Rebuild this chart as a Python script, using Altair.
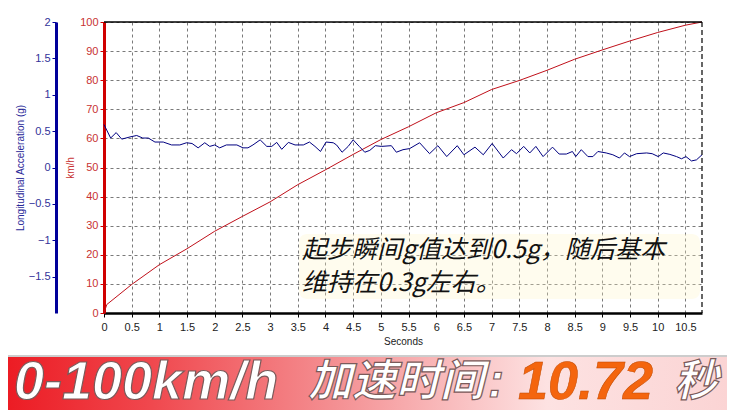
import altair as alt
import pandas as pd

# ---- data ----
speed_t = [0, 0.05, 0.5, 1.0, 1.5, 2.0, 2.5, 3.0, 3.5, 4.0, 4.5, 5.0, 5.5, 6.0,
           6.5, 7.0, 7.5, 8.0, 8.5, 9.0, 9.5, 10.0, 10.5, 10.8]
speed_v = [0, 2.9, 9.8, 16.6, 22.1, 28.1, 33.2, 38.2, 44.1, 49.2, 54.5, 59.6, 64.0, 68.8,
           72.3, 76.8, 79.9, 83.4, 87.2, 90.4, 93.5, 96.4, 98.9, 100]

accel_t = [0, 0.12, 0.22, 0.32, 0.47, 0.59, 0.70, 0.80, 0.92, 1.07, 1.22, 1.37, 1.49, 1.59,
           1.70, 1.82, 1.91, 2.00, 2.09, 2.21, 2.40, 2.51, 2.60, 2.69, 2.82, 2.94, 3.03, 3.12,
           3.21, 3.33, 3.45, 3.60, 3.71, 3.81, 3.91, 4.01, 4.14, 4.20, 4.30, 4.41, 4.50, 4.61,
           4.71, 4.80, 4.90, 5.01, 5.19, 5.28, 5.40, 5.52, 5.70, 5.88, 6.03, 6.19, 6.38, 6.50,
           6.70, 6.85, 7.01, 7.21, 7.36, 7.45, 7.58, 7.69, 7.80, 7.93, 8.10, 8.22, 8.35, 8.46,
           8.52, 8.62, 8.74, 8.83, 8.92, 9.07, 9.19, 9.31, 9.40, 9.49, 9.62, 9.80, 9.90, 10.01,
           10.10, 10.22, 10.34, 10.43, 10.51, 10.61, 10.70, 10.80]
accel_g = [0.59, 0.405, 0.48, 0.39, 0.42, 0.44, 0.405, 0.405, 0.35, 0.35, 0.31, 0.31, 0.34, 0.33,
           0.27, 0.34, 0.29, 0.31, 0.27, 0.31, 0.31, 0.27, 0.27, 0.31, 0.38, 0.29, 0.29, 0.345,
           0.25, 0.345, 0.31, 0.31, 0.35, 0.29, 0.22, 0.35, 0.34, 0.31, 0.21, 0.29, 0.38, 0.29,
           0.21, 0.235, 0.30, 0.29, 0.30, 0.21, 0.245, 0.26, 0.34, 0.19, 0.30, 0.15, 0.30, 0.175,
           0.28, 0.175, 0.33, 0.13, 0.245, 0.19, 0.29, 0.20, 0.29, 0.15, 0.28, 0.185, 0.185, 0.22,
           0.15, 0.245, 0.15, 0.15, 0.22, 0.20, 0.175, 0.13, 0.20, 0.15, 0.19, 0.20, 0.19, 0.15,
           0.20, 0.18, 0.15, 0.12, 0.15, 0.09, 0.105, 0.175]

x_ticks = [i * 0.5 for i in range(22)]
speed_ticks = list(range(0, 101, 10))
accel_ticks = [-1.5, -1, -0.5, 0, 0.5, 1, 1.5, 2]

note_lines = ["起步瞬间g值达到0.5g，随后基本", "维持在0.3g左右。"]
banner_parts = ["0-100km/h", "加速时间", ":", "10.72", "秒"]

W, H = 598, 291

speed_df = pd.DataFrame({"t": speed_t, "v": speed_v})
accel_df = pd.DataFrame({"t": accel_t, "g": accel_g})

xscale = alt.Scale(domain=[0, 10.8], nice=False, zero=False)
x_axis = alt.Axis(
    values=x_ticks, format=".1~f", labelOverlap=False, labelFlush=False,
    title="Seconds", grid=True,
    gridDash=[3, 3], gridColor="#7a7a7a", gridWidth=1,
    domainColor="#000000", domainWidth=2.5, tickColor="#000000", tickSize=4,
    labelColor="#222222", labelFont="Liberation Sans", labelFontSize=11,
    labelPadding=4, titleFont="Liberation Sans", titleFontSize=10,
    titleFontWeight="normal", titleColor="#222222", titlePadding=4)

speed = alt.Chart(speed_df).mark_line(color="#c0101a", strokeWidth=1).encode(
    x=alt.X("t:Q", scale=xscale, axis=x_axis),
    y=alt.Y("v:Q", scale=alt.Scale(domain=[0, 100], nice=False), axis=alt.Axis(
        orient="left", values=speed_ticks, title="km/h", grid=True,
        labelOverlap=False, labelFlush=False,
        gridDash=[3, 3], gridColor="#7a7a7a", gridWidth=1,
        domainColor="#d00000", domainWidth=3, tickColor="#d00000", tickSize=4,
        labelColor="#c83232", labelFont="Liberation Sans", labelFontSize=11,
        labelPadding=2, titleFont="Liberation Sans", titleFontSize=10,
        titleFontWeight="normal", titleColor="#c83232",
        titleX=-34, titleY=H / 2, titleAngle=270, titleAlign="center",
        titleBaseline="middle")),
)

accel = alt.Chart(accel_df).mark_line(color="#000080", strokeWidth=1).encode(
    x=alt.X("t:Q", scale=xscale, axis=x_axis),
    y=alt.Y("g:Q", scale=alt.Scale(domain=[-2, 2], nice=False), axis=alt.Axis(
        orient="left", offset=48, values=accel_ticks, format="~g", grid=False,
        labelOverlap=False, labelFlush=False, title="Longitudinal Acceleration (g)",
        domainColor="#000099", domainWidth=3, tickColor="#000099", tickSize=4,
        labelColor="#333399", labelFont="Liberation Sans", labelFontSize=11,
        labelPadding=2, titleFont="Liberation Sans", titleFontSize=10,
        titleFontWeight="normal", titleColor="#2a2a99",
        titleX=-36, titleY=H / 2, titleAngle=270, titleAlign="center",
        titleBaseline="middle")),
)

top_line = alt.Chart().mark_rule(color="#000000", strokeWidth=1.5).encode(
    x=alt.value(0), x2=alt.value(W), y=alt.value(0))
right_line = alt.Chart().mark_rule(color="#000000", strokeWidth=1.2, strokeDash=[5, 3]).encode(
    x=alt.value(W), y=alt.value(0), y2=alt.value(H))

# annotation with a soft yellow glow behind it
note_layers = []
glow = alt.Chart().mark_rect(color="#fff6c8", opacity=0.3, cornerRadius=8).encode(
    x=alt.value(195), x2=alt.value(596), y=alt.value(212), y2=alt.value(277))
for i, line in enumerate(note_lines):
    yv = 228 + 33 * i
    note_layers.append(alt.Chart().mark_text(
        align="left", baseline="middle", font="Noto Sans CJK SC", fontSize=25,
        fontStyle="italic", color="#111111",
        text=line).encode(x=alt.value(198), y=alt.value(yv)))

# bottom banner
grad = alt.LinearGradient(
    gradient="linear", x1=0, x2=1, y1=0, y2=0,
    stops=[alt.GradientStop(color="#ec1c24", offset=0),
           alt.GradientStop(color="#f0484e", offset=0.2),
           alt.GradientStop(color="#f48e91", offset=0.45),
           alt.GradientStop(color="#fde2e2", offset=0.75),
           alt.GradientStop(color="#fbd4d4", offset=1)])
banner_line = alt.Chart().mark_rule(color="#9a9a9a", strokeWidth=1).encode(
    x=alt.value(-96), x2=alt.value(623), y=alt.value(334))
banner = alt.Chart().mark_rect(color=grad).encode(
    x=alt.value(-96), x2=alt.value(623), y=alt.value(335), y2=alt.value(390))

latin_font = "Liberation Sans"
cjk_font = "Noto Sans CJK SC"
specs = [  # (text, x in plot px, font, size, colour)
    (banner_parts[0], -90, latin_font, 54, "#ffffff"),
    (banner_parts[1], 204, cjk_font, 44, "#ffffff"),
    (banner_parts[2], 384, latin_font, 48, "#ffffff"),
    (banner_parts[3], 414, latin_font, 54, "#f4650e"),
    (banner_parts[4], 570, cjk_font, 44, "#ffffff"),
]
ban_layers = []
for txt, px, f, s, c in specs:
    ban_layers.append(alt.Chart().mark_text(
        align="left", baseline="middle", font=f, fontSize=s, fontWeight="bold",
        fontStyle="italic", color=c,
        stroke="#7a5a5a" if c == "#ffffff" else "#c04a00",
        strokeWidth=1.2 if c == "#ffffff" else 0.5,
        text=txt).encode(x=alt.value(px), y=alt.value(361)))

chart = alt.layer(
    speed, accel, top_line, right_line, glow, *note_layers,
    banner_line, banner, *ban_layers
).resolve_scale(y="independent").properties(
    width=W, height=H,
    autosize=alt.AutoSizeParams(type="none"),
    padding={"left": 96, "top": 14, "right": 25, "bottom": 97},
    background="#ffffff",
).configure_view(strokeWidth=0)

chart.save("out.html", embed_options={"renderer": "svg", "actions": False})
